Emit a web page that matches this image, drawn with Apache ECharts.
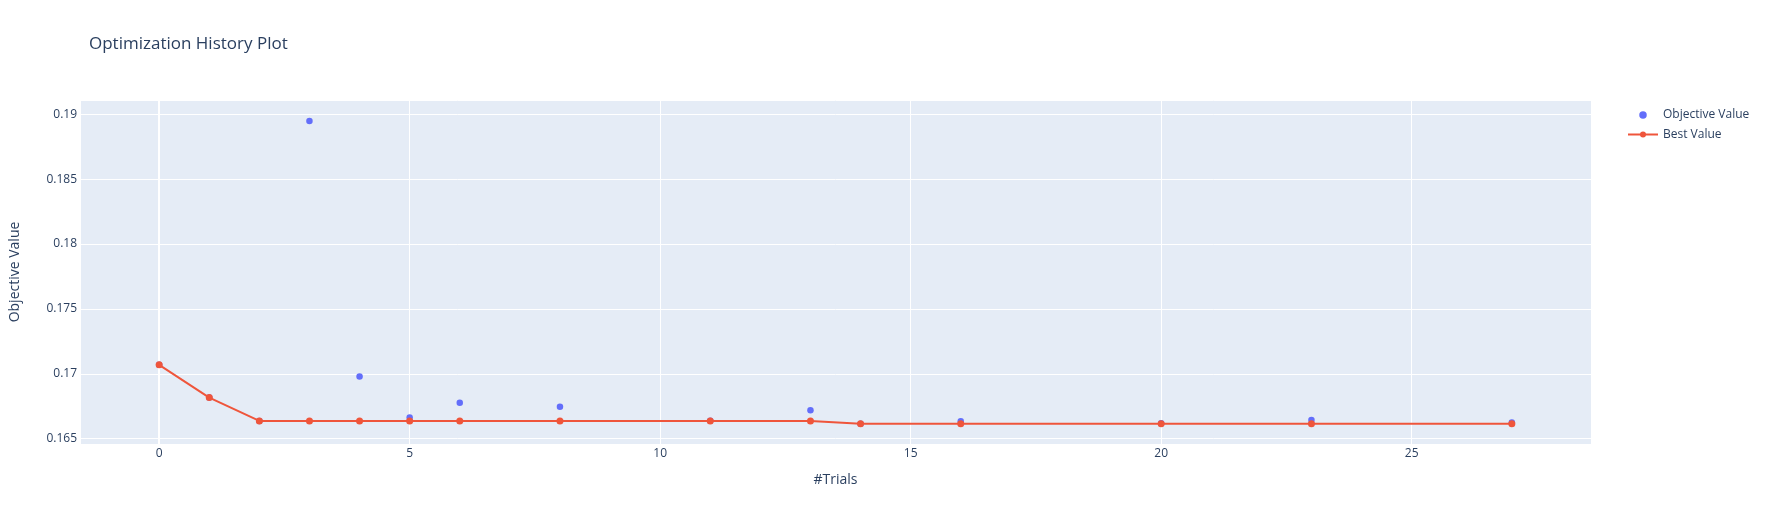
<!DOCTYPE html>
<html>
<head>
<meta charset="utf-8">
<script src="https://cdn.jsdelivr.net/npm/echarts@6/dist/echarts.min.js"></script>
<style>
html,body{margin:0;padding:0;background:#fff;}
#chart{width:1773px;height:525px;}
</style>
</head>
<body>
<div id="chart"></div>
<script>
var trialNumbers = [0, 1, 2, 3, 4, 5, 6, 8, 11, 13, 14, 16, 20, 23, 27];
var objectiveValues = [0.17069, 0.16817, 0.16637, 0.18948, 0.16979, 0.16663, 0.16776, 0.16746, 0.16638, 0.16720, 0.16615, 0.16635, 0.16618, 0.16643, 0.16625];
var bestValues = [0.17069, 0.16817, 0.16637, 0.16637, 0.16637, 0.16637, 0.16637, 0.16637, 0.16637, 0.16637, 0.16615, 0.16615, 0.16615, 0.16615, 0.16615];

var fontFam = '"Open Sans", verdana, arial, sans-serif';
var txtColor = '#2a3f5f';

function pairs(xs, ys) {
  return xs.map(function (x, i) { return [x, ys[i]]; });
}

var chart = echarts.init(document.getElementById('chart'), null, {renderer: 'canvas'});
chart.setOption({
  animation: false,
  backgroundColor: '#ffffff',
  textStyle: {fontFamily: fontFam, color: txtColor},
  title: {
    text: 'Optimization History Plot',
    left: 89, top: 36, padding: 0,
    textStyle: {fontFamily: fontFam, fontSize: 17, fontWeight: 'normal', color: txtColor}
  },
  legend: {
    orient: 'vertical',
    left: 1627, top: 109, padding: 0,
    itemWidth: 30, itemHeight: 7.5,
    itemGap: 7.5,
    textStyle: {fontFamily: fontFam, fontSize: 12, color: txtColor},
    data: ['Objective Value', 'Best Value']
  },
  grid: {
    left: 80, top: 100, width: 1511, height: 344,
    show: true, backgroundColor: '#e5ecf6', borderWidth: 0,
    containLabel: false
  },
  xAxis: {
    type: 'value',
    min: -1.58, max: 28.58,
    splitNumber: 6,
    name: '#Trials',
    nameLocation: 'middle',
    nameGap: 29,
    nameTextStyle: {fontFamily: fontFam, fontSize: 14, color: txtColor},
    axisLine: {show: false},
    axisTick: {show: false},
    axisLabel: {showMinLabel: false, showMaxLabel: false, fontFamily: fontFam, fontSize: 12, color: txtColor, margin: 4},
    splitLine: {show: true, lineStyle: {color: '#ffffff', width: 1}}
  },
  yAxis: {
    type: 'value',
    min: 0.16459, max: 0.1911,
    splitNumber: 5,
    name: 'Objective Value',
    nameLocation: 'middle',
    nameGap: 58,
    nameTextStyle: {fontFamily: fontFam, fontSize: 14, color: txtColor},
    axisLine: {show: false},
    axisTick: {show: false},
    axisLabel: {showMinLabel: false, showMaxLabel: false, fontFamily: fontFam, fontSize: 12, color: txtColor, margin: 3},
    splitLine: {show: true, lineStyle: {color: '#ffffff', width: 1}}
  },
  series: [
    {
      name: 'Objective Value',
      type: 'scatter',
      z: 2,
      symbol: 'circle',
      symbolSize: 6.5,
      itemStyle: {color: '#636efa', opacity: 1},
      data: pairs(trialNumbers, objectiveValues),
      markLine: {
        silent: true,
        z: 1,
        symbol: ['none', 'none'],
        label: {show: false},
        lineStyle: {color: '#ffffff', width: 2, type: 'solid'},
        data: [{xAxis: 0}]
      }
    },
    {
      name: 'Best Value',
      type: 'line',
      z: 3,
      symbol: 'circle',
      symbolSize: 7,
      showSymbol: true,
      lineStyle: {color: '#ef553b', width: 2},
      itemStyle: {color: '#ef553b'},
      data: pairs(trialNumbers, bestValues)
    }
  ]
});
</script>
</body>
</html>
